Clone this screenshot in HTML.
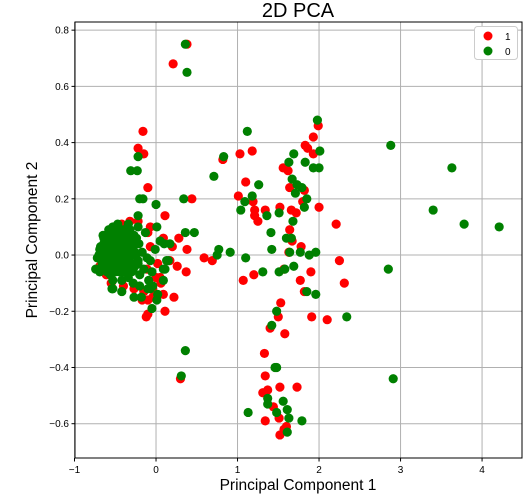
<!DOCTYPE html>
<html><head><meta charset="utf-8"><style>
html,body{margin:0;padding:0;background:#fff;}
svg{display:block;font-family:"Liberation Sans","DejaVu Sans",sans-serif;}
</style></head><body>
<svg id="chart" width="529" height="502" xmlns="http://www.w3.org/2000/svg">
<rect width="529" height="502" fill="#fff"/>
<text x="298" y="17" text-anchor="middle" font-size="20">2D PCA</text>
<g id="grid"></g>
<g id="marks"></g>
<rect x="75" y="22" width="447" height="436" fill="none" stroke="#000" stroke-width="1"/>
<g id="ticks"></g>
<text x="298" y="490" text-anchor="middle" font-size="15.5">Principal Component 1</text>
<text transform="translate(37,240) rotate(-90)" text-anchor="middle" font-size="15.5">Principal Component 2</text>
<g>
<rect x="474.5" y="26.5" width="43" height="33" rx="3" fill="#fff" stroke="#ccc"/>
<circle cx="488" cy="36" r="4.5" fill="#ff0000"/>
<text x="505" y="40" font-size="10">1</text>
<circle cx="488" cy="51" r="4.5" fill="#008000"/>
<text x="505" y="55" font-size="10">0</text>
</g>
</svg>
<script>
const xTicks=[-1,0,1,2,3,4];
const yTicks=[-0.6,-0.4,-0.2,0.0,0.2,0.4,0.6,0.8];
const redX=[0.38,0.21,-0.16,-0.22,-0.15,-0.10,0.44,0.11,-0.07,0.09,0.20,0.38,0.37,0.22,0.11,-0.10,-0.12,0.59,0.69,0.26,0.28,0.82,
1.99,1.93,1.83,1.86,1.93,1.03,1.18,1.10,1.56,1.62,1.64,1.82,1.01,1.80,1.19,1.21,1.34,1.52,1.66,1.72,2.00,1.21,1.25,2.21,1.64,1.67,1.78,1.63,2.25,1.90,1.20,1.07,1.57,1.77,2.31,1.82,1.53,1.50,1.40,1.58,1.91,2.10,1.33,1.34,1.52,1.73,1.37,1.31,1.44,1.51,1.34,1.60,1.57,1.52,0.30,
-0.61,-0.66,-0.69,-0.61,-0.55,-0.40,-0.27,-0.15,-0.04,0.00,-0.11,-0.07,-0.10,-0.22,-0.32,-0.42,-0.49,0.05,-0.04,0.09,0.17,0.02,0.06,-0.17,-0.10];
const redY=[0.75,0.68,0.44,0.38,0.36,0.24,0.20,0.14,0.10,0.06,0.03,0.02,-0.06,-0.15,-0.20,-0.21,-0.22,-0.01,-0.02,-0.04,0.06,0.34,
0.46,0.42,0.39,0.38,0.36,0.36,0.37,0.26,0.31,0.30,0.24,0.23,0.21,0.19,0.19,0.16,0.16,0.17,0.16,0.15,0.17,0.14,0.12,0.11,0.09,0.05,0.03,0.01,-0.02,-0.06,-0.07,-0.09,-0.05,-0.09,-0.10,-0.13,-0.17,-0.22,-0.26,-0.28,-0.22,-0.23,-0.35,-0.43,-0.47,-0.47,-0.48,-0.49,-0.54,-0.58,-0.59,-0.61,-0.62,-0.64,-0.44,
0.06,0.00,-0.04,-0.07,-0.10,-0.11,-0.12,-0.13,-0.12,-0.08,-0.05,0.03,0.08,0.12,0.12,0.11,0.08,-0.08,-0.15,-0.14,-0.02,-0.03,-0.10,-0.16,-0.16];
const greenX=[-0.72,-0.69,-0.66,-0.64,-0.63,-0.60,-0.59,-0.56,-0.56,-0.54,-0.53,-0.50,-0.49,-0.48,-0.47,-0.44,-0.43,-0.42,-0.39,-0.38,-0.37,-0.34,-0.33,-0.32,-0.31,-0.28,-0.27,-0.25,-0.22,-0.21,-0.20,-0.17,-0.15,-0.13,-0.11,-0.09,-0.07,-0.05,-0.04,-0.10,-0.20,-0.28,-0.42,-0.53,-0.54,-0.27,-0.01,-0.65,-0.74,-0.47,-0.34,-0.22,0.05,0.11,0.15,0.02,0.01,-0.53,-0.61,-0.69,-0.50,-0.38,-0.47,-0.56,-0.32,-0.26,
-0.70,-0.66,-0.62,-0.58,-0.54,-0.50,-0.46,-0.42,-0.38,-0.34,-0.30,-0.26,-0.68,-0.64,-0.60,-0.56,-0.52,-0.48,-0.44,-0.40,-0.36,-0.32,-0.28,-0.24,-0.66,-0.62,-0.58,-0.54,-0.50,-0.46,-0.42,-0.38,-0.34,-0.30,-0.26,-0.22,-0.64,-0.60,-0.56,-0.52,-0.48,-0.44,-0.40,-0.36,-0.32,-0.28,-0.24,-0.60,-0.55,-0.50,-0.45,-0.40,-0.35,-0.30,-0.58,-0.52,-0.46,-0.40,-0.34,
0.36,0.38,1.12,0.83,0.71,1.26,1.18,1.09,1.04,0.34,0.00,-0.22,-0.31,-0.23,-0.20,-0.16,-0.22,0.01,0.36,0.47,0.10,0.17,0.77,0.75,0.91,1.10,1.31,0.13,0.09,0.09,-0.07,-0.18,-0.05,0.36,-0.42,-0.53,0.31,
1.98,2.01,1.69,1.63,1.83,1.93,2.00,1.67,1.73,1.79,1.71,1.85,1.82,1.51,1.36,1.68,1.41,1.60,1.66,1.42,1.77,1.64,1.88,1.96,1.51,1.58,1.69,1.85,1.96,2.34,1.48,1.42,1.46,1.48,1.37,1.37,1.56,1.13,1.48,1.61,1.63,1.79,1.61,
2.88,3.63,3.40,3.78,4.21,2.85,2.91];
const greenY=[-0.01,0.02,-0.02,0.04,-0.05,0.05,0.00,0.08,-0.07,0.02,-0.02,0.06,0.10,0.01,-0.05,0.04,-0.01,0.08,-0.04,0.02,0.05,-0.08,-0.01,0.09,0.03,-0.05,0.07,0.00,-0.02,0.04,-0.07,0.01,-0.05,0.08,-0.01,-0.09,-0.02,-0.06,-0.11,-0.12,-0.11,-0.10,-0.09,-0.09,-0.12,-0.15,0.02,0.07,-0.05,0.11,0.11,0.10,0.05,-0.05,-0.02,-0.14,-0.16,0.10,-0.01,-0.06,0.00,-0.02,0.04,-0.04,0.02,-0.04,
0.00,0.01,0.00,0.01,0.00,0.01,0.00,0.01,0.00,0.01,0.00,0.01,0.03,0.04,0.03,0.04,0.03,0.04,0.03,0.04,0.03,0.04,0.03,0.04,-0.03,-0.03,-0.03,-0.03,-0.03,-0.03,-0.03,-0.03,-0.03,-0.03,-0.03,-0.03,0.06,0.07,0.06,0.07,0.06,0.07,0.06,0.07,0.06,0.07,0.06,-0.06,-0.06,-0.06,-0.06,-0.06,-0.06,-0.06,0.09,0.09,0.09,0.09,0.09,
0.75,0.65,0.44,0.35,0.28,0.25,0.21,0.19,0.16,0.20,0.18,0.35,0.30,0.30,0.20,0.20,0.14,0.10,0.08,0.08,0.04,0.04,0.02,0.00,0.01,-0.01,-0.06,-0.02,-0.05,-0.09,-0.12,-0.15,-0.19,-0.34,-0.13,-0.12,-0.43,
0.48,0.37,0.36,0.33,0.33,0.31,0.31,0.27,0.25,0.24,0.22,0.20,0.17,0.15,0.14,0.12,0.08,0.06,0.06,0.02,0.01,0.01,0.00,0.01,-0.06,-0.05,-0.04,-0.13,-0.14,-0.22,-0.20,-0.25,-0.40,-0.40,-0.51,-0.53,-0.52,-0.56,-0.56,-0.55,-0.58,-0.59,-0.63,
0.39,0.31,0.16,0.11,0.10,-0.05,-0.44];

const L=75,R=522,T=22,B=458;
const xMin=-0.994,xMax=4.49,yMin=-0.722,yMax=0.829;
function sx(v){return L+(v-xMin)/(xMax-xMin)*(R-L);}
function sy(v){return B-(v-yMin)/(yMax-yMin)*(B-T);}
const NS="http://www.w3.org/2000/svg";
const grid=document.getElementById('grid'),ticks=document.getElementById('ticks'),marks=document.getElementById('marks');
function mk(tag,attrs,parent){const e=document.createElementNS(NS,tag);for(const k in attrs)e.setAttribute(k,attrs[k]);parent.appendChild(e);return e;}
xTicks.forEach(t=>{
  const x=sx(t);
  const g=mk('line',{x1:x,x2:x,y1:T,y2:B,stroke:'#b0b0b0','stroke-width':1},grid);
  
  
  const tk=mk('line',{x1:x,x2:x,y1:B,y2:B+3.5,stroke:'#000'},ticks);
  
  
  const lb=mk('text',{x:x,y:B+15,'text-anchor':'middle','font-size':10},ticks);
  lb.textContent=(t<0?'\u2212':'')+Math.abs(t);
  
  
});
yTicks.forEach(t=>{
  const y=sy(t);
  const g=mk('line',{x1:L,x2:R,y1:y,y2:y,stroke:'#b0b0b0','stroke-width':1},grid);
  
  
  const tk=mk('line',{x1:L-3.5,x2:L,y1:y,y2:y,stroke:'#000'},ticks);
  
  
  const lb=mk('text',{x:L-6,y:y+3.5,'text-anchor':'end','font-size':10},ticks);
  lb.textContent=(t<0?'\u2212':'')+Math.abs(t).toFixed(1);
  
  
});
redX.forEach((v,i)=>{
  const c=mk('circle',{cx:sx(v),cy:sy(redY[i]),r:4.6,fill:'#ff0000'},marks);
  
  
});
greenX.forEach((v,i)=>{
  const c=mk('circle',{cx:sx(v),cy:sy(greenY[i]),r:4.6,fill:'#008000'},marks);
  
  
});
</script>
</body></html>
